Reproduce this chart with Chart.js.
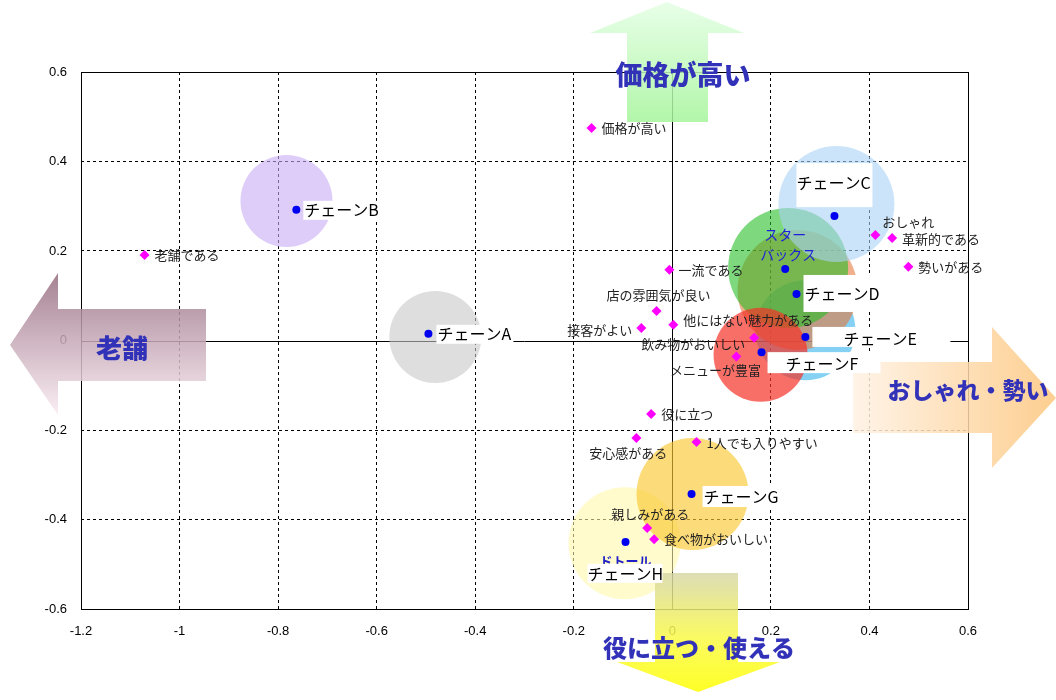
<!DOCTYPE html>
<html>
<head>
<meta charset="utf-8">
<script src="https://cdn.jsdelivr.net/npm/chart.js@4.4.0/dist/chart.umd.min.js"></script>
<style>
  html, body { margin: 0; padding: 0; background: #fff; }
</style>
</head>
<body>
<canvas id="grafico" width="1056" height="700"></canvas>
<script>
// チェーンの位置(青い点)
const chainNames = ['チェーンA', 'チェーンB', 'チェーンC', 'スターバックス', 'チェーンD', 'チェーンE', 'チェーンF', 'チェーンG', 'チェーンH'];
const chainX = [-0.495, -0.763, 0.329, 0.229, 0.252, 0.270, 0.181, 0.039, -0.095];
const chainY = [0.015, 0.292, 0.278, 0.160, 0.104, 0.008, -0.026, -0.343, -0.450];

// バブル(描画順)
const bubbleNames = ['A', 'B', 'E', 'D', 'スターバックス', 'C', 'F', 'H', 'G'];
const bubbleX = [-0.481, -0.783, 0.270, 0.254, 0.235, 0.333, 0.179, -0.097, 0.041];
const bubbleY = [0.008, 0.312, 0.023, 0.113, 0.162, 0.305, -0.032, -0.453, -0.343];
const bubbleSize = [46, 46, 50, 60, 60, 58, 47, 56, 56];

// イメージ項目(ピンクのひし形)
const attrNames = ['価格が高い', '老舗である', 'おしゃれ', '革新的である', '勢いがある', '一流である',
  '店の雰囲気が良い', '接客がよい', '他にはない魅力がある', '飲み物がおいしい', 'メニューが豊富',
  '役に立つ', '安心感がある', '1人でも入りやすい', '親しみがある', '食べ物がおいしい'];
const attrX = [-0.164, -1.071, 0.412, 0.446, 0.479, -0.006, -0.032, -0.063, 0.002, 0.166, 0.130, -0.043, -0.073, 0.049, -0.051, -0.037];
const attrY = [0.475, 0.191, 0.236, 0.229, 0.165, 0.158, 0.066, 0.028, 0.035, 0.006, -0.036, -0.164, -0.218, -0.227, -0.419, -0.444];

// 軸の目盛り
const xTicks = [-1.2, -1, -0.8, -0.6, -0.4, -0.2, 0, 0.2, 0.4, 0.6];
const yTicks = [-0.6, -0.4, -0.2, 0, 0.2, 0.4, 0.6];

// ラベルの置き方 (dx, dy, 揃え)
const attrLabelPos = [
  [10, 0, 'left'], [10, 0, 'left'], [7, -13, 'left'], [10, 1, 'left'], [10, 0, 'left'], [9, 0, 'left'],
  [2, -16, 'center'], [-9, 2, 'right'], [10, -5, 'left'], [-9, 6, 'right'], [-21, 13, 'center'],
  [10, 0, 'left'], [-8, 15, 'center'], [10, 1, 'left'], [3, -14, 'center'], [10, 0, 'left']
];
// 白い箱 (箱の左, 箱の上, 幅, 高さ, 文字の左, 文字の中心)
const chainLabelBox = [
  [8, -9, 77, 19, 1, 9], [7, -9, 78, 19, 1, 9], [-38, -53, 76, 44, 0, 20], null,
  [7, -19, 77, 37, 1, 19], [7, -10, 138, 20, 31, 12], [6, 0, 113, 21, 18, 12],
  [11, -8, 78, 21, 1, 11], [-38, 22, 75, 19, 0, 10]
];

const bubbleColors = {
  'A': 'rgba(200,200,200,0.6)',
  'B': 'rgba(200,170,245,0.6)',
  'C': 'rgba(170,210,245,0.6)',
  'スターバックス': 'rgba(40,190,40,0.6)',
  'D': 'rgba(230,120,60,0.6)',
  'E': 'rgba(80,190,240,0.7)',
  'F': 'rgba(245,50,40,0.7)',
  'G': 'rgba(250,200,50,0.65)',
  'H': 'rgba(255,248,170,0.6)'
};

const JP = "'Noto Sans CJK JP', sans-serif";

function isEdgeOrZero(v, min, max) {
  return Math.abs(v) < 1e-9 || Math.abs(v - min) < 1e-9 || Math.abs(v - max) < 1e-9;
}

function polygon(ctx, pts) {
  ctx.beginPath();
  ctx.moveTo(pts[0][0], pts[0][1]);
  for (let i = 1; i < pts.length; i++) ctx.lineTo(pts[i][0], pts[i][1]);
  ctx.closePath();
}

// 軸線と枠
const framePlugin = {
  id: 'frame',
  beforeDatasetsDraw(chart) {
    const { ctx, chartArea: a, scales: { x, y } } = chart;
    ctx.save();
    ctx.strokeStyle = '#000';
    ctx.lineWidth = 1;
    const x0 = Math.round(x.getPixelForValue(0)) + 0.5;
    const y0 = Math.round(y.getPixelForValue(0)) + 0.5;
    ctx.beginPath();
    ctx.moveTo(x0, a.top); ctx.lineTo(x0, a.bottom);
    ctx.moveTo(a.left, y0); ctx.lineTo(a.right, y0);
    ctx.stroke();
    ctx.strokeRect(Math.round(a.left) + 0.5, Math.round(a.top) + 0.5, Math.round(a.right - a.left), Math.round(a.bottom - a.top));
    ctx.restore();
  }
};

// 矢印と文字ラベル
const labelPlugin = {
  id: 'labels',
  afterDatasetsDraw(chart) {
    const { ctx, scales: { x, y } } = chart;
    ctx.save();

    // 矢印
    ctx.globalAlpha = 0.85;
    let g = ctx.createLinearGradient(0, 2, 0, 122);
    g.addColorStop(0, 'rgb(228,255,228)');
    g.addColorStop(1, 'rgb(165,245,155)');
    ctx.fillStyle = g;
    polygon(ctx, [[627, 122], [627, 33], [590, 33], [667, 2], [744, 33], [708, 33], [708, 122]]);
    ctx.fill();

    g = ctx.createLinearGradient(0, 573, 0, 692);
    g.addColorStop(0, 'rgb(215,215,170)');
    g.addColorStop(0.55, 'rgb(250,250,70)');
    g.addColorStop(1, 'rgb(255,255,0)');
    ctx.fillStyle = g;
    polygon(ctx, [[655, 573], [738, 573], [738, 662], [780, 662], [698, 692], [617, 662], [655, 662]]);
    ctx.fill();

    g = ctx.createLinearGradient(853, 0, 1056, 0);
    g.addColorStop(0, 'rgb(255,242,228)');
    g.addColorStop(1, 'rgb(253,198,125)');
    ctx.fillStyle = g;
    polygon(ctx, [[853, 362], [992, 362], [992, 327], [1056, 398], [992, 468], [992, 433], [853, 433]]);
    ctx.fill();

    g = ctx.createLinearGradient(0, 273, 0, 415);
    g.addColorStop(0, 'rgb(150,108,128)');
    g.addColorStop(1, 'rgb(250,235,242)');
    ctx.fillStyle = g;
    polygon(ctx, [[206, 309], [58, 309], [58, 273], [10, 345], [58, 415], [58, 381], [206, 381]]);
    ctx.fill();
    ctx.globalAlpha = 1;

    ctx.fillStyle = 'rgb(50,50,185)';
    ctx.textBaseline = 'middle';
    ctx.textAlign = 'center';
    ctx.font = '900 27px ' + JP;
    ctx.fillText('価格が高い', 683, 75);
    ctx.font = '900 26px ' + JP;
    ctx.fillText('老舗', 122, 348);
    ctx.font = '900 24px ' + JP;
    ctx.fillText('役に立つ・使える', 699, 648);
    ctx.font = '900 23px ' + JP;
    ctx.fillText('おしゃれ・勢い', 968, 390);

    // イメージ項目のラベル
    ctx.font = '13px ' + JP;
    ctx.fillStyle = '#222';
    attrNames.forEach((name, i) => {
      const px = x.getPixelForValue(attrX[i]);
      const py = y.getPixelForValue(attrY[i]);
      const [dx, dy, align] = attrLabelPos[i];
      ctx.textAlign = align;
      ctx.fillText(name, px + dx, py + dy);
    });

    // チェーンのラベル
    chainNames.forEach((name, i) => {
      const px = x.getPixelForValue(chainX[i]);
      const py = y.getPixelForValue(chainY[i]);
      const box = chainLabelBox[i];
      if (!box) {
        ctx.fillStyle = 'rgb(30,30,220)';
        ctx.font = '14px ' + JP;
        ctx.textAlign = 'center';
        ctx.fillText('スター', px, py - 34);
        ctx.fillText('バックス', px + 3, py - 14);
        return;
      }
      if (name === 'チェーンH') {
        ctx.fillStyle = 'rgb(30,30,200)';
        ctx.font = 'bold 13px ' + JP;
        ctx.textAlign = 'center';
        ctx.fillText('ドトール', px, py + 19);
      }
      const [bx, by, bw, bh, tx, ty] = box;
      ctx.fillStyle = '#fff';
      ctx.fillRect(px + bx, py + by, bw, bh);
      ctx.fillStyle = '#000';
      ctx.font = '16px ' + JP;
      ctx.textAlign = 'left';
      ctx.fillText(name, px + bx + tx, py + by + ty);
    });
    ctx.restore();
  }
};

const gridOpts = (min, max) => ({
  drawTicks: false,
  color: c => isEdgeOrZero(c.tick.value, min, max) ? 'rgba(0,0,0,0)' : '#000',
  lineWidth: 1
});

const tickFont = { family: "'Liberation Sans', sans-serif", size: 13 };

new Chart(document.getElementById('grafico'), {
  type: 'scatter',
  data: {
    datasets: [
      {
        label: 'イメージ',
        data: attrNames.map((n, i) => ({ x: attrX[i], y: attrY[i] })),
        pointStyle: 'rectRot',
        pointRadius: 5,
        backgroundColor: '#ff00ff',
        borderColor: '#ff00ff',
        borderWidth: 0,
        order: 0
      },
      {
        label: 'チェーン',
        data: chainNames.map((n, i) => ({ x: chainX[i], y: chainY[i] })),
        pointRadius: 4,
        backgroundColor: '#0000f0',
        borderColor: '#0000f0',
        borderWidth: 0,
        order: 1
      },
      {
        type: 'bubble',
        label: 'バブル',
        data: bubbleNames.map((n, i) => ({ x: bubbleX[i], y: bubbleY[i], r: bubbleSize[i] })),
        backgroundColor: bubbleNames.map(n => bubbleColors[n]),
        borderWidth: 0,
        order: 2
      }
    ]
  },
  options: {
    responsive: false,
    animation: false,
    layout: { padding: { left: 0, top: 72, right: 88, bottom: 51 } },
    plugins: { legend: { display: false }, tooltip: { enabled: false } },
    scales: {
      x: {
        type: 'linear',
        min: xTicks[0],
        max: xTicks[xTicks.length - 1],
        afterFit: s => { s.height = 40; },
        afterBuildTicks: s => { s.ticks = xTicks.map(v => ({ value: v })); },
        ticks: { padding: 15, color: '#000', font: tickFont, callback: v => String(Math.round(v * 10) / 10) },
        grid: gridOpts(xTicks[0], xTicks[xTicks.length - 1]),
        border: { display: false, dash: [3, 3] }
      },
      y: {
        type: 'linear',
        min: yTicks[0],
        max: yTicks[yTicks.length - 1],
        afterFit: s => { s.width = 81; },
        afterBuildTicks: s => { s.ticks = yTicks.map(v => ({ value: v })); },
        ticks: { padding: 14, color: '#000', font: tickFont, callback: v => String(Math.round(v * 10) / 10) },
        grid: gridOpts(yTicks[0], yTicks[yTicks.length - 1]),
        border: { display: false, dash: [3, 3] }
      }
    }
  },
  plugins: [framePlugin, labelPlugin]
});
</script>
</body>
</html>
